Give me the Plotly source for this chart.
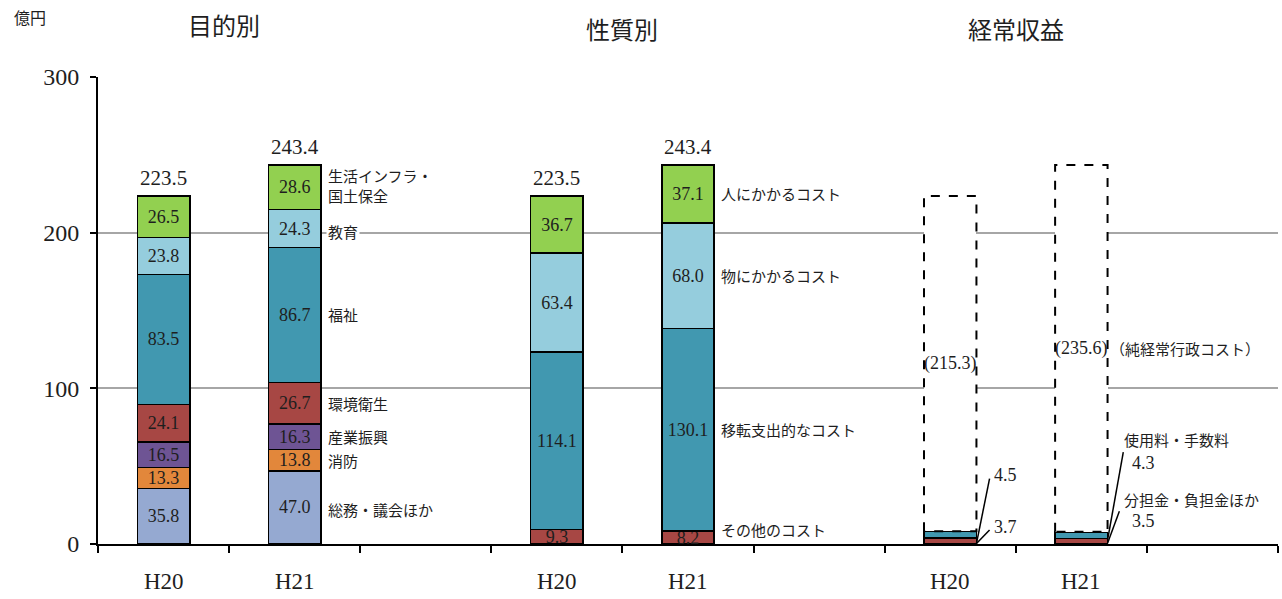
import plotly.graph_objects as go

# ---------------- data ----------------
years = ["H20", "H21"]
group_titles = ["目的別", "性質別", "経常収益"]

purpose_names = ["総務・議会ほか", "消防", "産業振興", "環境衛生", "福祉", "教育", "生活インフラ・<br>国土保全"]
purpose_h20 = [35.8, 13.3, 16.5, 24.1, 83.5, 23.8, 26.5]
purpose_h21 = [47.0, 13.8, 16.3, 26.7, 86.7, 24.3, 28.6]
purpose_colors = ["#95A9D1", "#E2873B", "#6E5494", "#A74744", "#4198B0", "#95CDDD", "#92D050"]

nature_names = ["その他のコスト", "移転支出的なコスト", "物にかかるコスト", "人にかかるコスト"]
nature_h20 = [9.3, 114.1, 63.4, 36.7]
nature_h21 = [8.2, 130.1, 68.0, 37.1]
nature_colors = ["#A74744", "#4198B0", "#95CDDD", "#92D050"]

revenue_names = ["分担金・負担金ほか", "使用料・手数料", "（純経常行政コスト）"]
revenue_h20 = [3.7, 4.5, 215.3]
revenue_h21 = [3.5, 4.3, 235.6]
revenue_colors = ["#A74744", "#4198B0", "#FFFFFF"]

y_ticks = [0, 100, 200, 300]
y_unit = "億円"

# ---------------- styling ----------------
SERIF = "Liberation Serif, Noto Sans CJK JP"
JP = "Noto Sans CJK JP"
TXT = "#1E1E1E"
BAR_W = 0.4
SLOTS_PER_GROUP = 3


def pos(g, yi):
    return g * SLOTS_PER_GROUP + yi + 0.5


fig = go.Figure()
annotations = []
shapes = []


def add_stack(g, names, v20, v21, colors, text_mask):
    xs = [pos(g, 0), pos(g, 1)]
    for i, (n, a, b, c) in enumerate(zip(names, v20, v21, colors)):
        show = text_mask[i]
        fig.add_trace(go.Bar(
            x=xs, y=[a, b], width=BAR_W, name=n,
            marker=dict(color=c, line=dict(color="black", width=1.5 if c != "#FFFFFF" else 0)),
            texttemplate=show if show else None,
            textposition="inside" if show else "none",
            insidetextanchor="middle", textangle=0,
            textfont=dict(family=SERIF, size=18, color=TXT),
            hoverinfo="skip", showlegend=False,
        ))


add_stack(0, purpose_names, purpose_h20, purpose_h21, purpose_colors, ["%{y:.1f}"] * 7)
add_stack(1, nature_names, nature_h20, nature_h21, nature_colors, ["%{y:.1f}"] * 4)
add_stack(2, revenue_names, revenue_h20, revenue_h21, revenue_colors, [None, None, "(%{y:.1f})"])

# dashed outline of 純経常行政コスト boxes
for yi, vals in enumerate([revenue_h20, revenue_h21]):
    base = vals[0] + vals[1]
    top = base + vals[2]
    xc = pos(2, yi)
    l, r = xc - BAR_W / 2, xc + BAR_W / 2
    fig.add_trace(go.Scatter(
        x=[l, l, r, r, l], y=[base, top, top, base, base], mode="lines",
        line=dict(color="black", width=2, dash="dash"),
        hoverinfo="skip", showlegend=False,
    ))

# totals above bars
for g, (a, b) in enumerate([(purpose_h20, purpose_h21), (nature_h20, nature_h21)]):
    for yi, vals in enumerate([a, b]):
        tot = sum(vals)
        annotations.append(dict(x=pos(g, yi), y=tot, xref="x", yref="y", text=f"{tot:.1f}",
                                showarrow=False, yanchor="bottom", yshift=4, xanchor="center",
                                font=dict(family=SERIF, size=21, color=TXT)))


# category labels to the right of H21 bars
def side_labels(g, names, vals, yshifts=None):
    cum = 0
    for i, (n, v) in enumerate(zip(names, vals)):
        c = cum + v / 2
        cum += v
        annotations.append(dict(x=pos(g, 1) + BAR_W / 2, y=c, xref="x", yref="y", text=n,
                                showarrow=False, xanchor="left", xshift=5, align="left",
                                yshift=(yshifts[i] if yshifts else 0),
                                bgcolor="white", borderpad=1,
                                font=dict(family=JP, size=15, color=TXT)))


side_labels(0, purpose_names, purpose_h21, [-2, 0, 0, 0, 0, -3, 2])
side_labels(1, nature_names, nature_h21, [8, 0, 0, 0])

# 純経常行政コスト label
base21 = revenue_h21[0] + revenue_h21[1]
annotations.append(dict(x=pos(2, 1) + BAR_W / 2, y=base21 + revenue_h21[2] / 2, xref="x", yref="y",
                        text=revenue_names[2], showarrow=False, xanchor="left", xshift=0,
                        font=dict(family=JP, size=15, color=TXT)))

# leader lines + labels for small revenue segments
e0 = pos(2, 0) + BAR_W / 2
e1 = pos(2, 1) + BAR_W / 2
leaders = [
    (e0, 0.3, e0 + 0.1, 9.0),
    (e0, 0.3, e0 + 0.1, 42.0),
    (e1, 0.5, e1 + 0.09, 21.0),
    (e1, 2.5, e1 + 0.12, 59.0),
]
for x0, y0, x1, y1 in leaders:
    shapes.append(dict(type="line", xref="x", yref="y", x0=x0, y0=y0, x1=x1, y1=y1,
                       line=dict(color="black", width=1.5)))

small_labels = [
    (e0 + 0.12, 10.9, f"{revenue_h20[0]:.1f}", SERIF, 18),
    (e0 + 0.12, 44.3, f"{revenue_h20[1]:.1f}", SERIF, 18),
    (e1 + 0.17, 14.6, f"{revenue_h21[0]:.1f}", SERIF, 18),
    (e1 + 0.17, 52.0, f"{revenue_h21[1]:.1f}", SERIF, 18),
    (e1 + 0.11, 28.6, revenue_names[0], JP, 15),
    (e1 + 0.11, 67.2, revenue_names[1], JP, 15),
]
for x, y, t, f, s in small_labels:
    annotations.append(dict(x=x, y=y, xref="x", yref="y", text=t, showarrow=False,
                            xanchor="left", font=dict(family=f, size=s, color=TXT)))

# year labels under axis
for g in range(len(group_titles)):
    for yi, yr in enumerate(years):
        annotations.append(dict(x=pos(g, yi), y=-0.081, xref="x", yref="paper", text=yr,
                                showarrow=False, yanchor="middle", xanchor="center",
                                font=dict(family=SERIF, size=23, color=TXT)))

# group titles
title_y = [1.113, 1.103, 1.103]
title_dx = [-0.04, 0, 0]
for g, t in enumerate(group_titles):
    annotations.append(dict(x=(pos(g, 0) + pos(g, 1)) / 2 + title_dx[g], y=title_y[g],
                            xref="x", yref="paper",
                            text=t, showarrow=False, yanchor="middle", xanchor="center",
                            font=dict(family=JP, size=24, color=TXT)))

# unit label
annotations.append(dict(x=-0.058, y=1.128, xref="paper", yref="paper", text=y_unit,
                        showarrow=False, yanchor="middle", xanchor="center",
                        font=dict(family=JP, size=16, color=TXT)))

n_slots = SLOTS_PER_GROUP * len(group_titles)
fig.update_layout(
    width=1282, height=599,
    margin=dict(l=98, r=4, t=77, b=55),
    barmode="stack",
    plot_bgcolor="white", paper_bgcolor="white",
    uniformtext=dict(mode="show", minsize=18),
    annotations=annotations, shapes=shapes,
    xaxis=dict(range=[0, n_slots], tickvals=list(range(n_slots + 1)),
               ticktext=[""] * (n_slots + 1), ticks="outside", ticklen=7, tickwidth=1.5,
               tickcolor="black", showline=True, linecolor="black", linewidth=2,
               showgrid=False, zeroline=False, fixedrange=True),
    yaxis=dict(range=[0, 300], tickvals=y_ticks, ticks="outside", ticklen=6, tickwidth=1.5,
               tickcolor="black", showline=True, linecolor="black", linewidth=2,
               showgrid=True, gridcolor="#A6A6A6", gridwidth=1.5, zeroline=False,
               ticklabelstandoff=6,
               tickfont=dict(family=SERIF, size=24, color=TXT), fixedrange=True),
)

fig.write_html("out.html")
